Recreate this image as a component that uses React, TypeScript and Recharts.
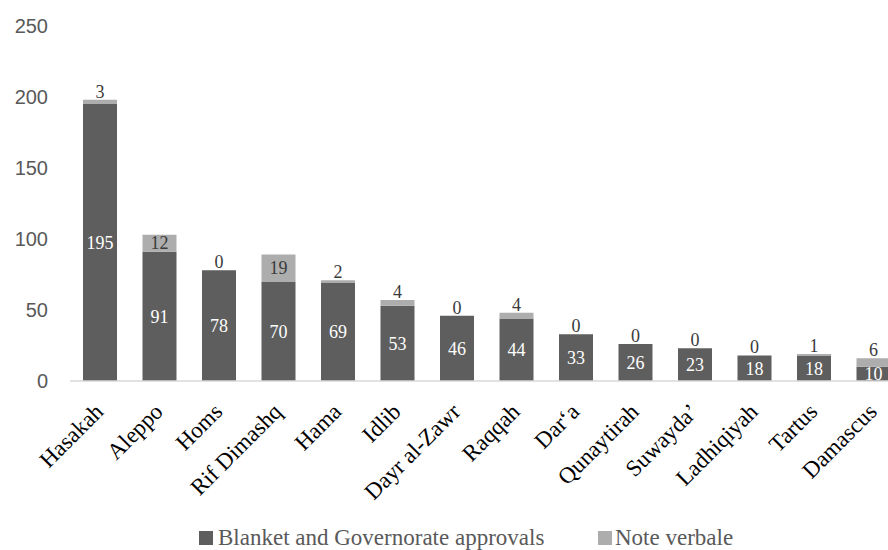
import React from 'react';
import { BarChart, Bar, XAxis, YAxis, Legend, LabelList } from 'recharts';

const categories = [
  'Hasakah',
  'Aleppo',
  'Homs',
  'Rif Dimashq',
  'Hama',
  'Idlib',
  'Dayr al-Zawr',
  'Raqqah',
  'Dar‘a',
  'Qunaytirah',
  'Suwayda’',
  'Ladhiqiyah',
  'Tartus',
  'Damascus',
];
const blanketApprovals = [195, 91, 78, 70, 69, 53, 46, 44, 33, 26, 23, 18, 18, 10];
const noteVerbale = [3, 12, 0, 19, 2, 4, 0, 4, 0, 0, 0, 0, 1, 6];
const yTicks = [0, 50, 100, 150, 200, 250];

const DARK = '#5e5e5e';
const LIGHT = '#adadad';
const SERIF = '"Liberation Serif", "Times New Roman", serif';
const SANS = '"Liberation Sans", Arial, sans-serif';

const chartData = categories.map((name, i) => ({
  name,
  blanket: blanketApprovals[i],
  note: noteVerbale[i],
}));

const XTick = (props: any) => {
  const { x, y, payload } = props;
  return (
    <g transform={`translate(${x + 5},${y + 32})`}>
      <text textAnchor="end" transform="rotate(-45)" fontFamily={SERIF} fontSize={23} fill="#000">
        {payload.value}
      </text>
    </g>
  );
};

const boxOf = (props: any) => {
  const vb = props.viewBox || props;
  return { x: Number(vb.x), y: Number(vb.y), w: Number(vb.width), h: Number(vb.height) };
};

// small segments get their label just above the stack, larger ones centred
const NoteLabel = (props: any) => {
  const { x, y, w, h } = boxOf(props);
  if (!(h > 0)) return null;
  const cx = x + w / 2;
  if (h >= 16) {
    return (
      <text x={cx} y={y + h / 2} textAnchor="middle" dominantBaseline="central" fontFamily={SERIF} fontSize={18} fill="#3a3a3a">
        {props.value}
      </text>
    );
  }
  return (
    <text x={cx} y={y - 2} textAnchor="middle" fontFamily={SERIF} fontSize={18} fill="#3a3a3a">
      {props.value}
    </text>
  );
};

// zero-valued notes have no segment of their own: label sits on top of the dark bar
const ZeroNoteLabel = (props: any) => {
  if (Number(props.value) !== 0) return null;
  const { x, y, w } = boxOf(props);
  return (
    <text x={x + w / 2} y={y - 2} textAnchor="middle" fontFamily={SERIF} fontSize={18} fill="#3a3a3a">
      {props.value}
    </text>
  );
};

const renderLegend = () => (
  <div style={{ position: 'relative', height: 40, fontFamily: SERIF, fontSize: 23, color: '#595959' }}>
    <div style={{ position: 'absolute', left: 199, top: 17, display: 'flex', alignItems: 'center', whiteSpace: 'nowrap', lineHeight: '22px' }}>
      <span style={{ width: 14, height: 14, background: DARK, display: 'inline-block', marginRight: 5 }} />
      <span>Blanket and Governorate approvals</span>
    </div>
    <div style={{ position: 'absolute', left: 598, top: 17, display: 'flex', alignItems: 'center', whiteSpace: 'nowrap', lineHeight: '22px' }}>
      <span style={{ width: 14, height: 14, background: LIGHT, display: 'inline-block', marginRight: 3 }} />
      <span>Note verbale</span>
    </div>
  </div>
);

export default function App() {
  return (
    <div style={{ position: 'absolute', left: 0, top: 0, width: 888, height: 550, overflow: 'hidden', background: '#fff' }}>
      <BarChart width={903} height={550} data={chartData} margin={{ top: 26, right: 0, bottom: 0, left: 0 }}>
        <XAxis
          dataKey="name"
          interval={0}
          height={129}
          tickLine={false}
          tickSize={0}
          tickMargin={0}
          axisLine={{ stroke: '#d9d9d9', strokeWidth: 1.5 }}
          tick={<XTick />}
        />
        <YAxis
          width={70}
          domain={[0, 250]}
          ticks={yTicks}
          axisLine={false}
          tickLine={false}
          tickMargin={16}
          tick={{ fontFamily: SANS, fontSize: 20, fill: '#595959' }}
        />
        <Legend verticalAlign="bottom" content={renderLegend} />
        <Bar dataKey="blanket" name="Blanket and Governorate approvals" stackId="a" fill={DARK} barSize={34} isAnimationActive={false}>
          <LabelList dataKey="blanket" position="center" fill="#fff" fontFamily={SERIF} fontSize={18} />
          <LabelList dataKey="note" content={<ZeroNoteLabel />} />
        </Bar>
        <Bar dataKey="note" name="Note verbale" stackId="a" fill={LIGHT} barSize={34} isAnimationActive={false}>
          <LabelList dataKey="note" content={<NoteLabel />} />
        </Bar>
      </BarChart>
    </div>
  );
}
